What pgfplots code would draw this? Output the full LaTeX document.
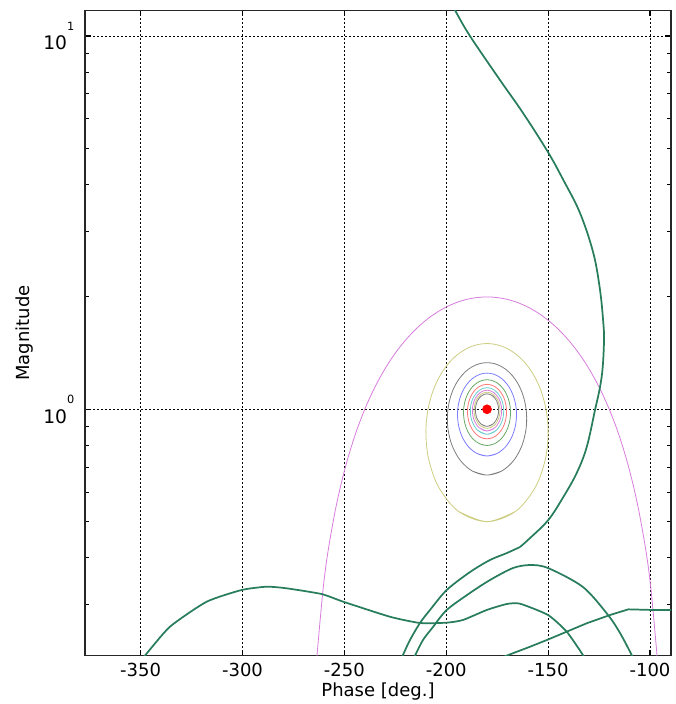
\documentclass[border=0pt]{standalone}
\usepackage{pgfplots}
\pgfplotsset{compat=1.18}
\usepackage{fontspec}
\setmainfont{DejaVu Sans}

% thin contour colours (light versions of the classic b g r c m y k cycle)
\definecolor{ctm}{RGB}{215,125,220}
\definecolor{cty}{RGB}{205,205,130}
\definecolor{ctk}{RGB}{125,125,125}
\definecolor{ctb}{RGB}{125,125,255}
\definecolor{ctg}{RGB}{105,170,105}
\definecolor{ctr}{RGB}{255,120,120}
\definecolor{ctc}{RGB}{105,205,205}
% response curves
\definecolor{resp}{RGB}{40,125,92}

\newcommand{\tenpow}[1]{10\raisebox{14.5pt}{\fontsize{8.5}{8.5}\selectfont #1}}

\pgfplotsset{contour/.style={line width=0.6pt, smooth, tension=0.55}}

\begin{document}
\begin{tikzpicture}
\begin{axis}[
  name=ax,
  scale only axis, width=439.5pt, height=484pt,
  xmin=-377.3, xmax=-89.7,
  ymode=log, ymin=0.2189, ymax=11.72,
  xtick={-350,-300,-250,-200,-150,-100},
  xticklabels={-350,-300,-250,-200,-150,-100},
  ytick={1,10},
  yticklabels={\tenpow{0},\tenpow{1}},
  minor ytick={0.3,0.4,0.5,0.6,0.7,0.8,0.9,2,3,4,5,6,7,8,9},
  grid=major,
  major grid style={black, line width=0.6pt, dash pattern=on 1.3pt off 1.7pt},
  axis line style={black!85, line width=0.8pt},
  tick style={black, line width=0.8pt},
  major tick length=4.5pt, minor tick length=3pt,
  xticklabel style={font=\fontsize{13.5}{15}\selectfont, yshift=-2pt},
  yticklabel style={font=\fontsize{14}{16}\selectfont, xshift=-4.5pt},
  xlabel={Phase [deg.]}, ylabel={Magnitude},
  every axis x label/.style={at={(axis description cs:0.5,0)},anchor=center,yshift=-27pt,font=\fontsize{13.5}{15}\selectfont},
  every axis y label/.style={at={(axis description cs:0,0.5)},rotate=90,anchor=center,yshift=45.4pt,font=\fontsize{13.5}{15}\selectfont},
]

% |1+L| = 1
\addplot[ctm, contour] coordinates {
(-265,0.1743)(-260,0.3473)(-255,0.5176)(-250,0.6840)(-245,0.8452)(-240,1.0)
(-235,1.1472)(-230,1.2856)(-225,1.4142)(-220,1.5321)(-215,1.6383)(-210,1.7321)
(-205,1.8126)(-200,1.8794)(-195,1.9319)(-190,1.9696)(-185,1.9924)(-180,2)
(-175,1.9924)(-170,1.9696)(-165,1.9319)(-160,1.8794)(-155,1.8126)(-150,1.7321)
(-145,1.6383)(-140,1.5321)(-135,1.4142)(-130,1.2856)(-125,1.1472)(-120,1.0)
(-115,0.8452)(-110,0.6840)(-105,0.5176)(-100,0.3473)(-95,0.1743)};

% |1+L| = 1/2
\addplot[cty, contour] coordinates {
(-165.95,0.5330)
(-180,0.5)(-194.05,0.5330)(-203.79,0.6197)(-208.67,0.7368)(-210,0.8660)(-209.02,0.9956)
(-206.57,1.1180)(-203.15,1.2283)(-199.11,1.3229)(-194.64,1.3990)(-189.90,1.4546)
(-184.99,1.4886)(-180,1.5)(-175.01,1.4886)(-170.10,1.4546)(-165.36,1.3990)
(-160.89,1.3229)(-156.85,1.2283)(-153.43,1.1180)(-150.98,0.9956)(-150,0.8660)
(-151.33,0.7368)(-156.21,0.6197)(-165.95,0.5330)(-180,0.5)
(-194.05,0.5330)};

% |1+L| = 1/3
\addplot[ctk, contour] coordinates {
(-172.75,0.6835)
(-180,0.6667)(-187.25,0.6835)(-193.19,0.7306)(-197.14,0.7998)(-199.11,0.8819)
(-199.41,0.9688)(-198.43,1.0541)(-196.51,1.1330)(-193.90,1.2019)(-190.80,1.2580)
(-187.37,1.2994)(-183.73,1.3248)(-180,1.3333)(-176.27,1.3248)(-172.63,1.2994)
(-169.20,1.2580)(-166.10,1.2019)(-163.49,1.1330)(-161.57,1.0541)(-160.59,0.9688)
(-160.89,0.8819)(-162.86,0.7998)(-166.81,0.7306)(-172.75,0.6835)(-180,0.6667)
(-187.25,0.6835)};

% |1+L| = 1/4
\addplot[ctb, contour] coordinates {
(-175.12,0.7613)
(-180,0.75)(-184.88,0.7613)(-189.07,0.7934)(-192.12,0.8420)(-193.90,0.9014)
(-194.48,0.9660)(-194.04,1.0308)(-192.78,1.0917)(-190.89,1.1456)(-188.54,1.1900)
(-185.87,1.2229)(-182.98,1.2432)(-180,1.25)(-177.02,1.2432)(-174.13,1.2229)
(-171.46,1.1900)(-169.11,1.1456)(-167.22,1.0917)(-165.96,1.0308)(-165.52,0.9660)
(-166.10,0.9014)(-167.88,0.8420)(-170.93,0.7934)(-175.12,0.7613)(-180,0.75)
(-184.88,0.7613)};

% |1+L| = 1/5
\addplot[ctg, contour] coordinates {
(-176.33,0.8085)
(-180,0.8)(-183.67,0.8085)(-186.90,0.8328)(-189.35,0.8702)(-190.89,0.9165)
(-191.52,0.9677)(-191.31,1.0198)(-190.41,1.0694)(-188.95,1.1136)(-187.06,1.1502)
(-184.87,1.1775)(-182.48,1.1943)(-180,1.2)(-177.52,1.1943)(-175.13,1.1775)
(-172.94,1.1502)(-171.05,1.1136)(-169.59,1.0694)(-168.69,1.0198)(-168.48,0.9677)
(-169.11,0.9165)(-170.65,0.8702)(-173.10,0.8328)(-176.33,0.8085)(-180,0.8)
(-183.67,0.8085)};

% |1+L| = 1/6
\addplot[ctr, contour] coordinates {
(-177.06,0.8401)
(-180,0.8333)(-182.94,0.8401)(-185.56,0.8597)(-187.61,0.8900)(-188.95,0.9280)
(-189.55,0.9703)(-189.46,1.0138)(-188.77,1.0555)(-187.59,1.0929)(-186.02,1.1241)
(-184.17,1.1474)(-182.13,1.1618)(-180,1.1667)(-177.87,1.1618)(-175.83,1.1474)
(-173.98,1.1241)(-172.41,1.0929)(-171.23,1.0555)(-170.54,1.0138)(-170.45,0.9703)
(-171.05,0.9280)(-172.39,0.8900)(-174.44,0.8597)(-177.06,0.8401)(-180,0.8333)
(-182.94,0.8401)};

% |1+L| = 1/7
\addplot[ctc, contour] coordinates {
(-175.34,0.8792)
(-180,0.8571)(-184.66,0.8792)(-187.59,0.9368)(-188.13,1.0102)(-186.59,1.0786)
(-183.64,1.1260)(-180,1.1429)(-176.36,1.1260)(-173.41,1.0786)(-171.87,1.0102)
(-172.41,0.9368)(-175.34,0.8792)(-180,0.8571)
(-184.66,0.8792)};

% |1+L| = 1/8
\addplot[ctm, contour] coordinates {
(-175.99,0.8939)
(-180,0.875)(-184.01,0.8939)(-186.59,0.9437)(-187.13,1.0078)(-185.82,1.0680)
(-183.23,1.1100)(-180,1.125)(-176.77,1.1100)(-174.18,1.0680)(-172.87,1.0078)
(-173.41,0.9437)(-175.99,0.8939)(-180,0.875)
(-184.01,0.8939)};

% |1+L| = 1/9
\addplot[cty, contour] coordinates {
(-176.48,0.9055)
(-180,0.8889)(-183.52,0.9055)(-185.82,0.9493)(-186.34,1.0062)(-185.21,1.0599)
(-182.90,1.0976)(-180,1.1111)(-177.10,1.0976)(-174.79,1.0599)(-173.66,1.0062)
(-174.18,0.9493)(-176.48,0.9055)(-180,0.8889)
(-183.52,0.9055)};

% |1+L| = 1/10
\addplot[ctk, contour] coordinates {
(-176.87,0.9148)
(-180,0.9)(-183.13,0.9148)(-185.21,0.9539)(-185.71,1.0050)(-184.72,1.0536)
(-182.63,1.0878)(-180,1.1)(-177.37,1.0878)(-175.28,1.0536)(-174.29,1.0050)
(-174.79,0.9539)(-176.87,0.9148)(-180,0.9)
(-183.13,0.9148)};

% loop responses
\addplot[resp, line width=1.3pt, smooth, tension=0.6] coordinates {
(-204.07,14.13)(-195.72,11.72)(-188.36,10.0)(-173.63,7.62)(-162.34,6.22)
(-150.22,4.90)(-142.56,4.115)(-134.36,3.356)(-127.83,2.622)(-124.54,2.087)
(-122.92,1.703)(-122.58,1.533)(-123.22,1.298)(-124.54,1.147)(-127.00,0.9956)
(-131.07,0.7925)(-135.98,0.6752)(-142.56,0.5822)(-149.92,0.5052)(-158.90,0.4519)
(-163.81,0.4277)};
\addplot[resp, line width=1.3pt, smooth, tension=0.5] coordinates {
(-163.81,0.4277)(-170.19,0.4122)(-178.54,0.3948)(-188.36,0.3665)(-199.79,0.3281)
(-207.99,0.2900)(-212.90,0.2677)(-217.81,0.2410)(-221.39,0.2189)(-224.68,0.2002)};

\addplot[resp, line width=1.3pt, smooth, tension=0.5] coordinates {
(-219.0,0.2002)(-215.35,0.2189)(-211.43,0.2410)(-206.52,0.2611)(-199.79,0.2900)
(-188.36,0.3221)(-178.54,0.3489)(-167.25,0.3757)(-158.90,0.3827)(-150.07,0.3757)
(-132.89,0.3342)(-120.62,0.2812)(-114.73,0.2517)(-108.84,0.2189)(-105.89,0.2028)};

\addplot[resp, line width=1.3pt, smooth, tension=0.35] coordinates {
(-353.29,0.2028)(-347.89,0.2189)(-335.62,0.2616)(-317.60,0.3052)(-300.42,0.3281)
(-288.15,0.3348)(-278.33,0.3315)(-261.15,0.3200)(-250.55,0.3052)(-227.63,0.2782)
(-212.90,0.2677)(-199.79,0.2682)(-191.79,0.2727)(-180.16,0.2900)(-170.34,0.3009)
(-163.81,0.3015)(-150.07,0.2812)(-140.89,0.2537)(-132.74,0.2189)(-129.45,0.2028)};

\addplot[resp, line width=1.3pt] coordinates {
(-185.90,0.2032)(-170.34,0.2189)(-158.90,0.2312)(-150.07,0.2417)(-140.89,0.2537)
(-131.07,0.2672)(-119.63,0.2812)(-110.65,0.2912)(-98.38,0.2900)(-85,0.2900)};

% critical point
\addplot[only marks, mark=*, mark size=3.4pt, red] coordinates {(-180,1)};
\end{axis}
\pgfresetboundingbox
\path ([xshift=-63.75pt,yshift=-36.3pt]ax.south west) rectangle ([xshift=3pt,yshift=7.7pt]ax.north east);
\end{tikzpicture}
\end{document}
